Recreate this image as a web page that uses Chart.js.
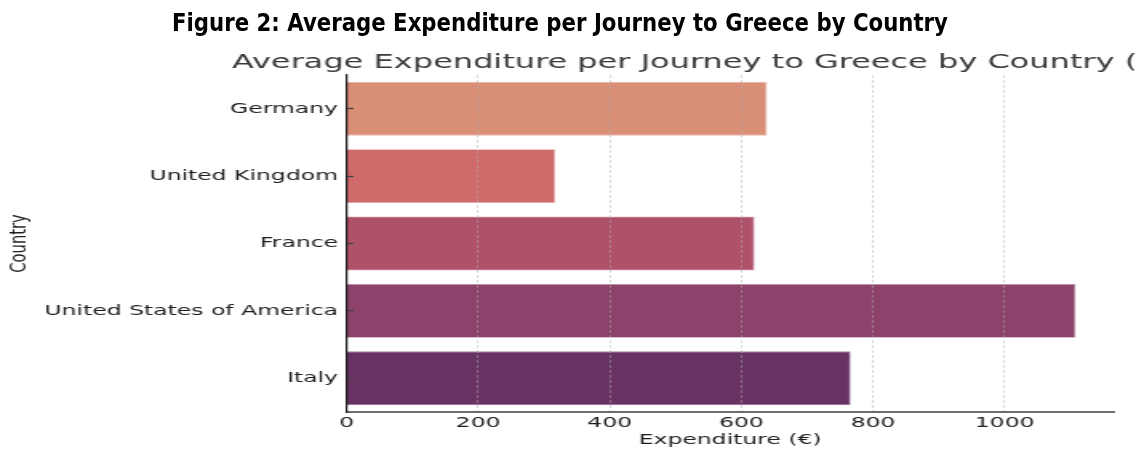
<!DOCTYPE html>
<html>
<head>
<meta charset="utf-8">
<script src="https://cdn.jsdelivr.net/npm/chart.js@4.4.1/dist/chart.umd.min.js"></script>
<style>
  html, body { margin: 0; padding: 0; width: 1138px; height: 449px; overflow: hidden; background: #ffffff; }
  #wrap { position: absolute; left: 0; top: 0; width: 711px; height: 449px; transform: scaleX(1.6); transform-origin: 0 0; }
  #c { display: block; }
  #hd { position: absolute; left: 172px; top: 11.2px; white-space: nowrap; font: 700 24.5px/24px "Liberation Sans Narrow", "DejaVu Sans Condensed", sans-serif; color: #000; transform-origin: 0 0; }
</style>
</head>
<body>
<div id="wrap"><canvas id="c" width="711" height="449"></canvas></div>
<div id="hd"></div>
<script>
// ---- data ----
const categories = ['Germany', 'United Kingdom', 'France', 'United States of America', 'Italy'];
const expenditure = [639, 317, 620, 1108, 766];
const xTickValues = [0, 200, 400, 600, 800, 1000];
const figureTitle = 'Figure 2: Average Expenditure per Journey to Greece by Country';
const chartTitle = 'Average Expenditure per Journey to Greece by Country (';
const xAxisTitle = 'Expenditure (€)';
const yAxisTitle = 'Country';

// ---- styles ----
const barColors = ['#d98e76', '#cf6a6b', '#b0516a', '#8c426a', '#683262'];
const barEdges  = ['#e8bbad', '#e2a6a6', '#d097a6', '#ba8ea6', '#a484a1'];
const FONT = '"DejaVu Sans", sans-serif';

// figure heading (outside the stretched chart)
const hd = document.getElementById('hd');
hd.textContent = figureTitle;
const hw = hd.getBoundingClientRect().width;
hd.style.transform = 'scaleX(' + (776 / hw) + ')';

const clippedTitle = {
  id: 'clippedTitle',
  afterDraw(chart) {
    const ctx = chart.ctx;
    ctx.save();
    ctx.font = '20px ' + FONT;
    ctx.fillStyle = '#3a3a3a';
    ctx.textAlign = 'left';
    ctx.textBaseline = 'alphabetic';
    ctx.fillText(chartTitle, 145, 68);
    ctx.restore();
  }
};

new Chart(document.getElementById('c'), {
  type: 'bar',
  data: {
    labels: categories,
    datasets: [{
      data: expenditure,
      backgroundColor: barColors,
      borderColor: barEdges,
      borderWidth: 0.8,
      barPercentage: 0.8,
      categoryPercentage: 1.0
    }]
  },
  options: {
    indexAxis: 'y',
    responsive: false,
    devicePixelRatio: 1,
    animation: false,
    layout: { padding: { top: 75, right: 14.8, bottom: 0, left: 0 } },
    plugins: { legend: { display: false }, tooltip: { enabled: false }, title: { display: false } },
    scales: {
      x: {
        type: 'linear',
        position: 'bottom',
        min: 0,
        max: 1166,
        afterBuildTicks: (s) => { s.ticks = xTickValues.map(v => ({ value: v })); },
        afterFit: (s) => { s.height = 37; },
        grid: { z: 1, color: 'rgba(175,175,175,0.6)', lineWidth: 0.8, drawTicks: false, tickLength: 0 },
        border: { z: 2, color: '#6e6e6e', width: 2, dash: [3, 2] },
        ticks: { font: { family: FONT, size: 14.7 }, color: '#1e1e1e', padding: 2, callback: (v) => String(v), maxRotation: 0 },
        title: { display: true, text: xAxisTitle, font: { family: FONT, size: 14.7 }, color: '#1e1e1e', padding: 0 }
      },
      y: {
        type: 'category',
        position: 'left',
        afterFit: (s) => { s.width = 216.6; },
        grid: { z: 1, offset: false, drawOnChartArea: false, drawTicks: true, tickLength: -4.4, tickColor: '#444444', tickWidth: 1.3 },
        border: { z: 2, color: '#1f1f1f', width: 1.25 },
        ticks: { font: { family: FONT, size: 14.7 }, color: '#1e1e1e', padding: 9.7 },
        title: { display: true, text: yAxisTitle, font: { family: FONT, size: 14.7 }, color: '#1e1e1e', padding: { top: 3.1, bottom: 0 } }
      }
    }
  },
  plugins: [clippedTitle]
});
</script>
</body>
</html>
